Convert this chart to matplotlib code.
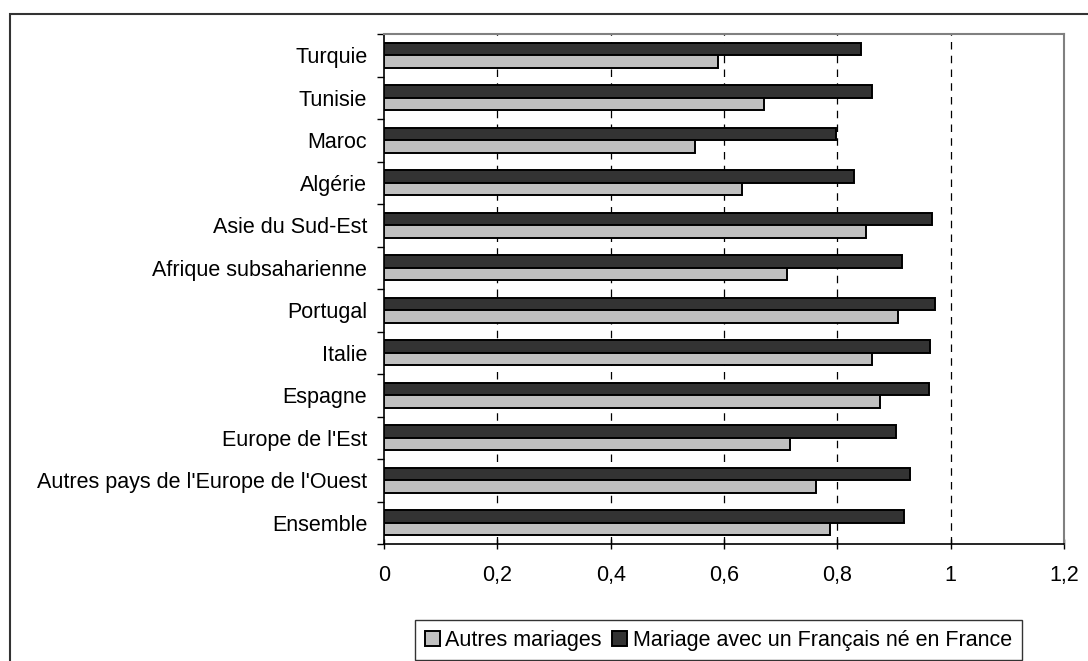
import matplotlib.pyplot as plt
from matplotlib.patches import Rectangle
from matplotlib.ticker import FuncFormatter
import numpy as np

plt.rcParams['font.family'] = ['Liberation Sans', 'DejaVu Sans']

# categories from bottom to top
categories = ["Ensemble", "Autres pays de l'Europe de l'Ouest", "Europe de l'Est",
              "Espagne", "Italie", "Portugal", "Afrique subsaharienne",
              "Asie du Sud-Est", "Algérie", "Maroc", "Tunisie", "Turquie"]
autres = [0.787, 0.762, 0.716, 0.875, 0.861, 0.907, 0.712, 0.851,
          0.632, 0.548, 0.670, 0.589]
francais = [0.918, 0.928, 0.904, 0.961, 0.964, 0.972, 0.914, 0.967,
            0.830, 0.798, 0.862, 0.841]
xticks = [0, 0.2, 0.4, 0.6, 0.8, 1.0, 1.2]

fs = 15.5

fig = plt.figure(figsize=(10.88, 6.61), dpi=100)
ax = fig.add_axes([384 / 1088, 1 - 544 / 661, 680 / 1088, 510 / 661])

# outer chart frame (runs off the right and bottom edges)
fig.patches.append(Rectangle((10 / 1088, -0.05), 1.1, 1 - 14 / 661 + 0.05,
                             transform=fig.transFigure, fill=False,
                             edgecolor='#333333', linewidth=1.5))

y = np.arange(len(categories))
h = 0.295
ax.barh(y + h / 2, francais, height=h, color='#333333', edgecolor='black',
        linewidth=1.4, label='Mariage avec un Français né en France', zorder=3)
ax.barh(y - h / 2, autres, height=h, color='#c0c0c0', edgecolor='black',
        linewidth=1.4, label='Autres mariages', zorder=3)

ax.set_xlim(0, 1.2)
ax.set_ylim(-0.5, len(categories) - 0.5)
ax.set_xticks(xticks)
ax.xaxis.set_major_formatter(FuncFormatter(lambda v, p: ('%g' % v).replace('.', ',')))
ax.set_yticks(y)
ax.set_yticklabels(categories)
ax.set_yticks(np.arange(len(categories) + 1) - 0.5, minor=True)

for v in xticks[1:-1]:
    ax.axvline(v, color='black', linestyle=(0, (6, 5)), linewidth=0.9, zorder=1)

ax.tick_params(axis='y', which='major', length=0, pad=12, labelsize=fs)
ax.tick_params(axis='y', which='minor', length=5, direction='out', width=1)
ax.tick_params(axis='x', length=7, direction='inout', width=1, pad=11.5, labelsize=fs)

for s in ['top', 'right']:
    ax.spines[s].set_color('#808080')
    ax.spines[s].set_linewidth(1.5)
for s in ['left', 'bottom']:
    ax.spines[s].set_color('black')
    ax.spines[s].set_linewidth(1.2)

handles, labels = ax.get_legend_handles_labels()
leg = fig.legend(handles[::-1], labels[::-1], loc='upper left',
                 bbox_to_anchor=(415 / 1088, 1 - 620 / 661), ncol=2,
                 fontsize=fs, frameon=True, fancybox=False, edgecolor='black',
                 handlelength=0.7, handleheight=0.7, handletextpad=0.25,
                 columnspacing=0.5, borderpad=0.45, borderaxespad=0)
leg.get_frame().set_linewidth(1.0)

fig.savefig('out.png', dpi=100)
